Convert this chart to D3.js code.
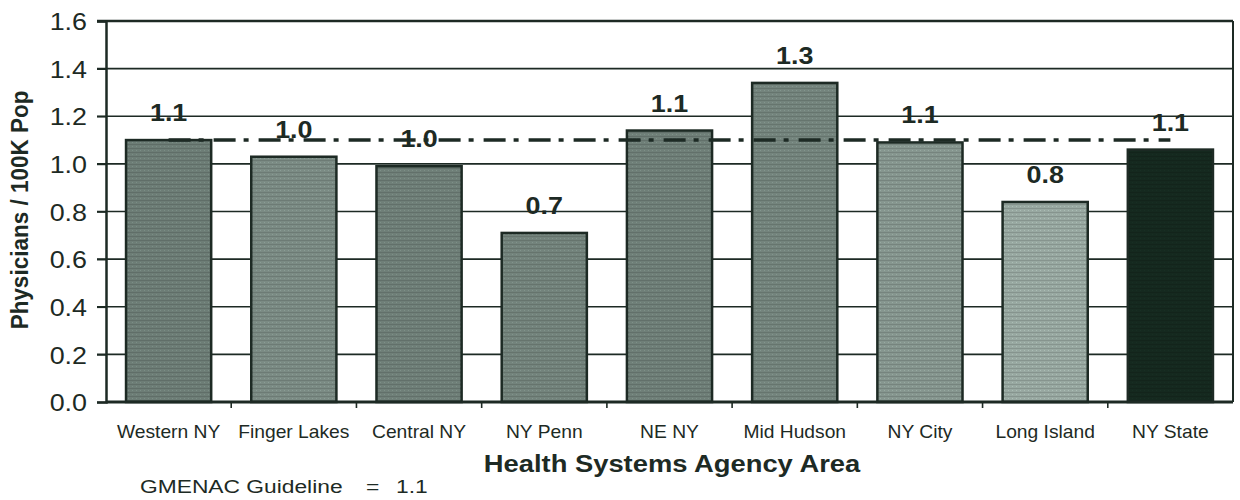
<!DOCTYPE html>
<html><head><meta charset="utf-8">
<script src="https://cdn.jsdelivr.net/npm/d3@7"></script>
<style>body{margin:0;background:#fff}svg{display:block}</style>
</head><body><svg id="c" width="1240" height="500"></svg>
<script>
const categories = ["Western NY","Finger Lakes","Central NY","NY Penn","NE NY","Mid Hudson","NY City","Long Island","NY State"];
const values = [1.10,1.03,0.99,0.71,1.14,1.34,1.09,0.84,1.06];
const valueLabels = ["1.1","1.0","1.0","0.7","1.1","1.3","1.1","0.8","1.1"];
const yTicks = [0,0.2,0.4,0.6,0.8,1.0,1.2,1.4,1.6];
const guideline = 1.1;

const barColors = ["#6d7d76","#7b8b84","#6f7f78","#73837c","#6f7f78","#74847d","#86968f","#98a8a1","#15291f"];
const ink = "#1d2a24";
const FONT = "Liberation Sans, Arial, Helvetica, sans-serif";

const svg = d3.select("#c");
const m = {l:106, r:1233, t:21, b:402};
const x = d3.scaleBand().domain(categories).range([m.l, m.r]).paddingInner(0.32).paddingOuter(0.16);
const y = d3.scaleLinear().domain([0,1.6]).range([m.b, m.t]);

function stext(sel, tx, ty, sx){ return sel.attr("transform", `translate(${tx},${ty}) scale(${sx},1)`); }

// patterns
const defs = svg.append("defs");
barColors.forEach((c,i)=>{
  const p = defs.append("pattern").attr("id","p"+i).attr("patternUnits","userSpaceOnUse").attr("width",4).attr("height",4);
  p.append("rect").attr("width",4).attr("height",4).attr("fill",c);
  const dk = d3.color(c).darker(0.35), lt = d3.color(c).brighter(0.35);
  p.append("rect").attr("y",0).attr("width",4).attr("height",1).attr("fill",dk);
  p.append("rect").attr("x",0).attr("y",2).attr("width",1).attr("height",1).attr("fill",lt);
});

// gridlines
svg.append("g").selectAll("line").data(yTicks.filter(d=>d>0)).join("line")
  .attr("x1",m.l-9).attr("x2",m.r).attr("y1",d=>y(d)).attr("y2",d=>y(d))
  .attr("stroke",ink).attr("stroke-width",d=>d===1.6?2.5:1.7);

// right border
svg.append("line").attr("x1",m.r).attr("x2",m.r).attr("y1",m.t).attr("y2",m.b).attr("stroke",ink).attr("stroke-width",2);

// y axis
const ya = svg.append("g").attr("transform",`translate(${m.l},0)`)
  .call(d3.axisLeft(y).tickValues(yTicks).tickFormat(d3.format(".1f")).tickSize(9).tickPadding(12));
ya.select(".domain").attr("stroke",ink).attr("stroke-width",2.5);
ya.selectAll(".tick line").attr("stroke",ink).attr("stroke-width",1.7);
ya.selectAll(".tick text").attr("fill",ink).style("font-family",FONT).style("font-size","24px")
  .attr("x",0).attr("dy","0.36em").attr("transform","translate(-19,0) scale(1.12,1)");

// bars
svg.append("g").selectAll("rect").data(values).join("rect")
  .attr("x",(d,i)=>x(categories[i])).attr("width",x.bandwidth())
  .attr("y",d=>y(d)).attr("height",d=>y(0)-y(d))
  .attr("fill",(d,i)=>`url(#p${i})`).attr("stroke",ink).attr("stroke-width",2.5);

// x axis
const step = x.step();
const xa = svg.append("g").attr("transform",`translate(0,${m.b})`);
xa.append("line").attr("x1",m.l).attr("x2",m.r).attr("stroke",ink).attr("stroke-width",3);
xa.selectAll("line.t").data(categories.slice(1)).join("line").attr("class","t")
  .attr("x1",d=>x(d)-x.paddingInner()*step/2).attr("x2",d=>x(d)-x.paddingInner()*step/2)
  .attr("y1",0).attr("y2",6).attr("stroke",ink).attr("stroke-width",1.6);
xa.selectAll("text").data(categories).join("text")
  .attr("text-anchor","middle")
  .attr("fill",ink).style("font-family",FONT).style("font-size","17.5px").text(d=>d)
  .each(function(d){ stext(d3.select(this), x(d)+x.bandwidth()/2, 36, 1.1); });

// guideline
svg.append("line")
  .attr("x1",x(categories[0])+x.bandwidth()/2).attr("x2",x(categories[categories.length-1])+x.bandwidth()/2)
  .attr("y1",y(guideline)).attr("y2",y(guideline))
  .attr("stroke",ink).attr("stroke-width",3.5).attr("stroke-dasharray","22,8,5,10");

// value labels
svg.append("g").selectAll("text").data(values).join("text")
  .attr("text-anchor","middle").attr("fill",ink)
  .style("font-family",FONT).style("font-size","24px").style("font-weight","bold")
  .text((d,i)=>valueLabels[i])
  .each(function(d,i){ stext(d3.select(this), x(categories[i])+x.bandwidth()/2, y(d)-19, 1.12); });

// titles
stext(svg.append("text"), 672, 472, 1.14).attr("text-anchor","middle").attr("fill",ink)
  .style("font-family",FONT).style("font-size","24px").style("font-weight","bold")
  .text("Health Systems Agency Area");
svg.append("text").attr("transform","translate(28,210) rotate(-90) scale(1,1.1)").attr("text-anchor","middle").attr("fill",ink)
  .style("font-family",FONT).style("font-size","22.5px").style("font-weight","bold")
  .text("Physicians / 100K Pop");
stext(svg.append("text"), 140, 493, 1.2).attr("fill",ink)
  .style("font-family",FONT).style("font-size","19px").text("GMENAC Guideline");
stext(svg.append("text"), 366, 493, 1.2).attr("fill",ink)
  .style("font-family",FONT).style("font-size","19px").text("=");
stext(svg.append("text"), 396, 493, 1.2).attr("fill",ink)
  .style("font-family",FONT).style("font-size","19px").text("1.1");
</script></body></html>
